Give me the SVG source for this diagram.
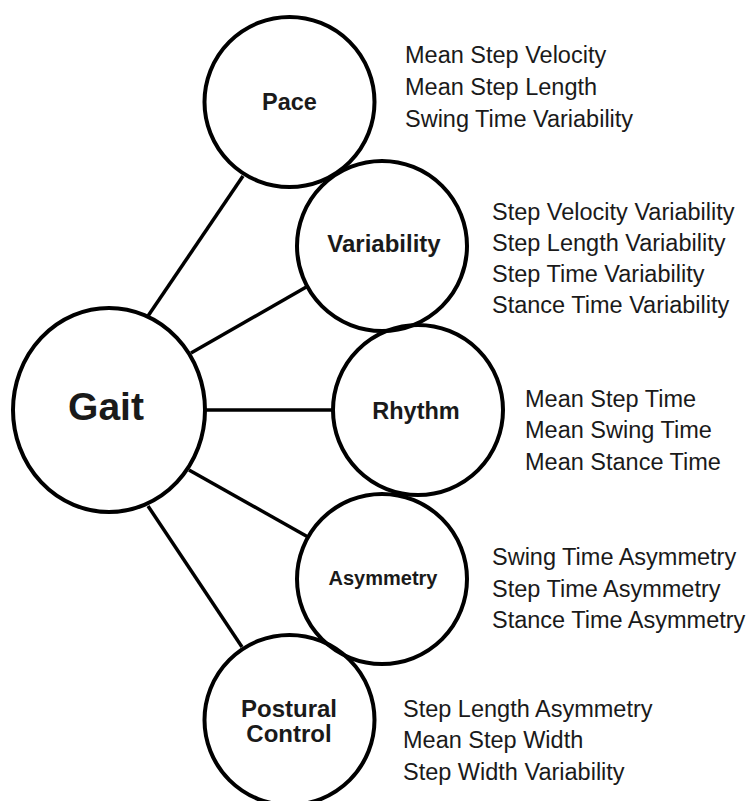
<svg xmlns="http://www.w3.org/2000/svg" width="752" height="801" viewBox="0 0 752 801">
  <style>
    .node { fill: none; stroke: #000; stroke-width: 4; }
    .link { stroke: #000; stroke-width: 3.5; stroke-linecap: butt; }
    .label { font-family: "Liberation Sans", Arial, sans-serif; font-weight: bold; fill: #1a1a1a; text-anchor: middle; }
    .item { font-family: "Liberation Sans", Arial, sans-serif; font-size: 23.5px; fill: #1a1a1a; }
  </style>
  <rect width="752" height="801" fill="#fff"/>

  <!-- spokes from the hub to each category -->
  <g id="connectors">
    <line class="link" x1="148" y1="316" x2="243" y2="176"/>
    <line class="link" x1="191" y1="353" x2="308" y2="286"/>
    <line class="link" x1="205" y1="410" x2="333" y2="410"/>
    <line class="link" x1="189" y1="470" x2="308" y2="537"/>
    <line class="link" x1="148" y1="506" x2="242" y2="647"/>
  </g>

  <g id="gait">
    <ellipse class="node" cx="109" cy="410" rx="96" ry="102"/>
    <text class="label" x="106" y="420" font-size="39">Gait</text>
  </g>

  <g id="pace">
    <circle class="node" cx="289.5" cy="102" r="85"/>
    <text class="label" x="289.5" y="110" font-size="23.5">Pace</text>
    <text class="item" x="405" y="63">Mean Step Velocity</text>
    <text class="item" x="405" y="95">Mean Step Length</text>
    <text class="item" x="405" y="127">Swing Time Variability</text>
  </g>

  <g id="variability">
    <circle class="node" cx="382" cy="246" r="85"/>
    <text class="label" x="384" y="252" font-size="24">Variability</text>
    <text class="item" x="492" y="220">Step Velocity Variability</text>
    <text class="item" x="492" y="251">Step Length Variability</text>
    <text class="item" x="492" y="282">Step Time Variability</text>
    <text class="item" x="492" y="313">Stance Time Variability</text>
  </g>

  <g id="rhythm">
    <circle class="node" cx="418" cy="410" r="85"/>
    <text class="label" x="416" y="419" font-size="23.5">Rhythm</text>
    <text class="item" x="525" y="407">Mean Step Time</text>
    <text class="item" x="525" y="438">Mean Swing Time</text>
    <text class="item" x="525" y="470">Mean Stance Time</text>
  </g>

  <g id="asymmetry">
    <circle class="node" cx="382" cy="579" r="85"/>
    <text class="label" x="383" y="585" font-size="20">Asymmetry</text>
    <text class="item" x="492" y="565">Swing Time Asymmetry</text>
    <text class="item" x="492" y="597">Step Time Asymmetry</text>
    <text class="item" x="492" y="628">Stance Time Asymmetry</text>
  </g>

  <g id="postural-control">
    <circle class="node" cx="289.5" cy="720" r="85"/>
    <text class="label" x="289" y="717" font-size="24">Postural</text>
    <text class="label" x="289" y="742" font-size="24">Control</text>
    <text class="item" x="403" y="717">Step Length Asymmetry</text>
    <text class="item" x="403" y="748">Mean Step Width</text>
    <text class="item" x="403" y="780">Step Width Variability</text>
  </g>
</svg>
